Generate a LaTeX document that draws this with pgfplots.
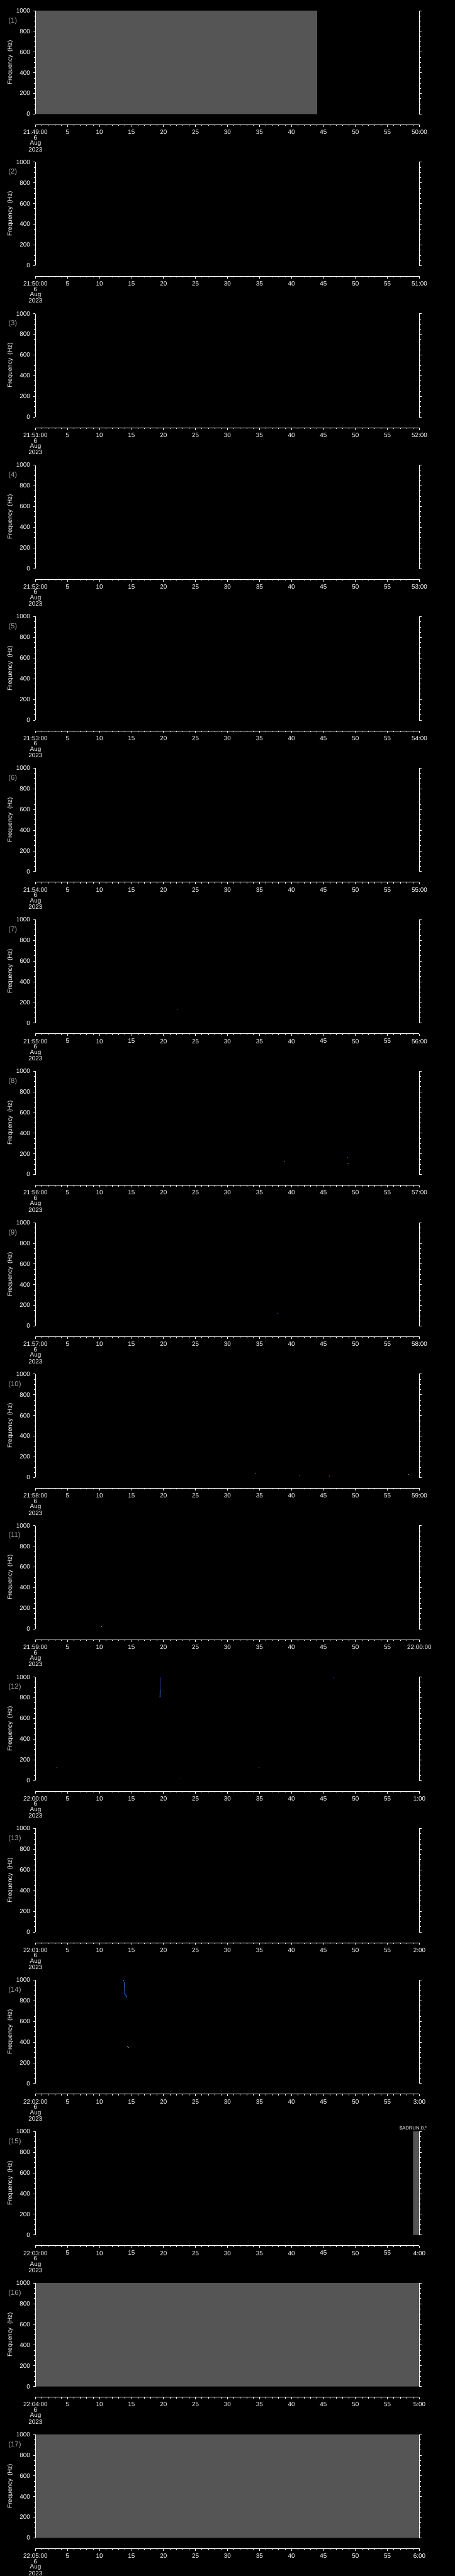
\documentclass[border=0pt]{standalone}
\usepackage{pgfplots}
\pgfplotsset{compat=1.18}
\usepackage{fontspec}
\setmainfont{Liberation Sans}
\definecolor{bggray}{RGB}{85,85,85}
\definecolor{lblgray}{RGB}{165,165,165}
\definecolor{dblue}{RGB}{0,95,255}
\definecolor{cyanb}{RGB}{0,195,255}
\definecolor{ygreen}{RGB}{210,230,0}
\definecolor{sgreen}{RGB}{60,230,120}
\definecolor{smag}{RGB}{200,0,140}
\definecolor{navyb}{RGB}{20,40,190}
\pgfplotsset{
  panel/.style={
    scale only axis, width=432pt, height=116.5pt,
    xmin=0, xmax=60, ymin=0, ymax=1000,
    axis x line=bottom, axis y line=box,
    axis x line shift=12pt,
    axis line style={white, line width=0.5pt, -},
    tick style={white, line width=0.5pt},
    tick align=outside,
    major tick length=2.5pt, minor tick length=1.5pt,
    xtick={0,5,...,60}, minor x tick num=4,
    ytick={0,200,...,1000}, minor y tick num=3,
    ytick pos=both, yticklabel pos=left,
    tick label style={white, font=\fontsize{7}{6}\selectfont},
    xticklabel style={align=center},
    /pgf/number format/assume math mode=true,
    /pgf/number format/1000 sep={},
    axis on top=true,
  },
  dot/.style={only marks, mark=square*, mark size=0.7pt, mark options={draw=none, fill=#1}},
}
\newcommand{\panel}[5]{%
  \begin{axis}[panel, at={(40pt,{-(128.5+170.6*#1)*1pt})}, anchor=south west,
    xticklabels={{#3},5,10,15,20,25,30,35,40,45,50,55,{#4}},
    extra description/.code={%
      \node[anchor=west, text=lblgray, font=\fontsize{8}{9}\selectfont] at (0,1) [xshift=-34pt, yshift=-11.5pt] {(#2)};
      \node[text=white, font=\fontsize{7}{8}\selectfont, xshift=-28.5pt, rotate=90, anchor=center] at (0,0.5) {Frequency~~(Hz)};
    }]
    #5
  \end{axis}%
}
\begin{document}
\begin{tikzpicture}
\useasboundingbox (0,0) rectangle (512pt,-2901pt);
\fill[black] (0,0) rectangle (512pt,-2901pt);

\panel{0}{1}{21:49:00\\6\\Aug\\2023}{50:00}{
  \addplot[fill=bggray, draw=none] coordinates {(0,0) (0,1000) (44,1000) (44,0)} \closedcycle;
}
\panel{1}{2}{21:50:00\\6\\Aug\\2023}{51:00}{}
\panel{2}{3}{21:51:00\\6\\Aug\\2023}{52:00}{}
\panel{3}{4}{21:52:00\\6\\Aug\\2023}{53:00}{}
\panel{4}{5}{21:53:00\\6\\Aug\\2023}{54:00}{}
\panel{5}{6}{21:54:00\\6\\Aug\\2023}{55:00}{}
\panel{6}{7}{21:55:00\\6\\Aug\\2023}{56:00}{
  \addplot[dot=dblue] coordinates {(22.2,131)};
}
\panel{7}{8}{21:56:00\\6\\Aug\\2023}{57:00}{
  \addplot[dot=ygreen] coordinates {(38.85,127)};
  \addplot[dot=dblue] coordinates {(48.8,161) (48.8,168)};
  \addplot[dot=sgreen] coordinates {(48.7,111)};
  \addplot[dot=cyanb] coordinates {(48.9,113)};
}
\panel{8}{9}{21:57:00\\6\\Aug\\2023}{58:00}{
  \addplot[dot=dblue] coordinates {(37.8,121)};
  \addplot[dot=cyanb] coordinates {(38.1,121)};
}
\panel{9}{10}{21:58:00\\6\\Aug\\2023}{59:00}{
  \addplot[dot=cyanb] coordinates {(34.5,43) (58.3,33)};
  \addplot[dot=ygreen] coordinates {(34.4,43)};
  \addplot[dot=sgreen] coordinates {(41.3,21)};
  \addplot[dot=smag] coordinates {(45.9,13)};
  \addplot[dot=dblue] coordinates {(58.5,26)};
}
\panel{10}{11}{21:59:00\\6\\Aug\\2023}{22:00:00}{
  \addplot[dot=cyanb] coordinates {(10.3,24)};
}
\panel{11}{12}{22:00:00\\6\\Aug\\2023}{1:00}{
  \addplot[dot=cyanb] coordinates {(3.35,127) (22.4,20) (34.9,127)};
  \addplot[navyb, line width=0.4pt] coordinates {(19.55,876) (19.55,1000)};
  \addplot[dblue, line width=0.8pt] coordinates {(19.45,804) (19.5,876)};
  \addplot[navyb, line width=0.6pt] coordinates {(46.5,985) (46.5,1000)};
}
\panel{12}{13}{22:01:00\\6\\Aug\\2023}{2:00}{}
\panel{13}{14}{22:02:00\\6\\Aug\\2023}{3:00}{
  \addplot[dblue, line width=0.8pt] coordinates {(13.85,995) (13.95,864) (14.15,850) (14.3,829)};
  \addplot[dot=cyanb] coordinates {(13.8,995) (14.3,357) (14.5,352)};
}
\panel{14}{15}{22:03:00\\6\\Aug\\2023}{4:00}{
  \addplot[fill=bggray, draw=none] coordinates {(59.0,0) (59.0,1000) (60,1000) (60,0)} \closedcycle;
}
\panel{15}{16}{22:04:00\\6\\Aug\\2023}{5:00}{
  \addplot[fill=bggray, draw=none] coordinates {(0,0) (0,1000) (60,1000) (60,0)} \closedcycle;
}
\panel{16}{17}{22:05:00\\6\\Aug\\2023}{6:00}{
  \addplot[fill=bggray, draw=none] coordinates {(0,0) (0,1000) (60,1000) (60,0)} \closedcycle;
}
\node[text=white, font=\fontsize{5.5}{6}\selectfont] at (465pt,-2396.5pt) {\$ADRUN,0,*};
\end{tikzpicture}
\end{document}
